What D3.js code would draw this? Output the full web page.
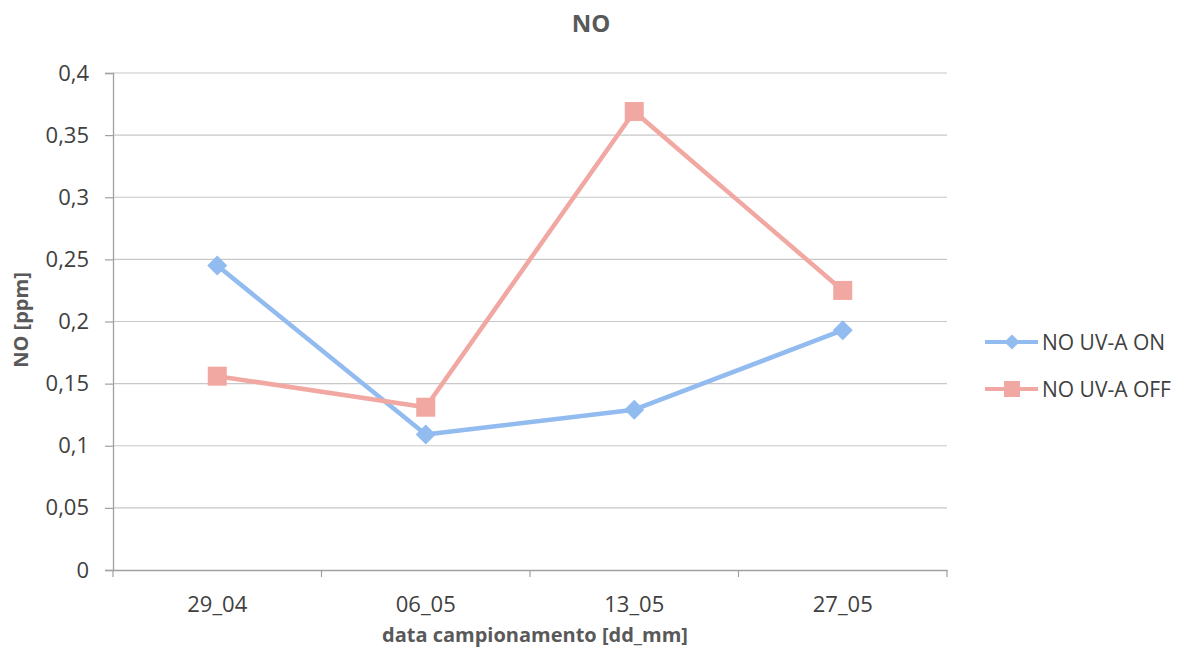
<!DOCTYPE html>
<html><head><meta charset="utf-8">
<script src="https://cdn.jsdelivr.net/npm/d3@7"></script>
<style>body{margin:0;background:#fff;} text{font-family:"Open Sans","Noto Sans",sans-serif;}</style>
</head><body>
<svg id="c" width="1197" height="656"></svg>
<script>
const categories = ["29_04","06_05","13_05","27_05"];
const seriesOn = [0.245, 0.109, 0.129, 0.193];
const seriesOff = [0.156, 0.131, 0.369, 0.225];
const yTicks = [0,0.05,0.1,0.15,0.2,0.25,0.3,0.35,0.4];
const seriesNames = ["NO UV-A ON","NO UV-A OFF"];
const colors = ["#92BBF0","#F2A8A2"];

const svg = d3.select("#c");
const L=113, R=947, T=73, B=570;
const x = d3.scaleBand().domain(categories).range([L,R]);
const y = d3.scaleLinear().domain([0,0.4]).range([B,T]);
const fmt = d => String(d).replace(".",",");
const txt = "#404040";

// gridlines
svg.append("g").selectAll("line").data(yTicks.slice(1)).join("line")
  .attr("x1",L).attr("x2",R).attr("y1",d=>y(d)).attr("y2",d=>y(d))
  .attr("stroke","#c8c8c8").attr("stroke-width",1.2);

// y axis
const ya = svg.append("g").attr("transform",`translate(${L},0)`)
  .call(d3.axisLeft(y).tickValues(yTicks).tickFormat(fmt).tickSize(8).tickPadding(16));
ya.select(".domain").attr("stroke","#a0a0a0").attr("stroke-width",1.3);
ya.selectAll(".tick line").attr("stroke","#a0a0a0").attr("stroke-width",1.2);
ya.selectAll("text").style("font-size","22px").attr("fill",txt).style("font-family","Open Sans");

// x axis
const xa = svg.append("g").attr("transform",`translate(0,${B})`)
  .call(d3.axisBottom(x).tickSize(0).tickPadding(26));
xa.select(".domain").attr("stroke","#a0a0a0").attr("stroke-width",1.3);
xa.selectAll("text").style("font-size","22px").attr("fill",txt).style("font-family","Open Sans");
const bounds = categories.map(c=>x(c)).concat([R]);
svg.append("g").selectAll("line").data(bounds).join("line")
  .attr("x1",d=>d).attr("x2",d=>d).attr("y1",B).attr("y2",B+7)
  .attr("stroke","#a0a0a0").attr("stroke-width",1.2);

const cx = c => x(c)+x.bandwidth()/2;
const line = d3.line().x((d,i)=>cx(categories[i])).y(d=>y(d));

function marker(g, kind, px, py, s, color){
  if(kind==="d"){
    g.append("path").attr("d",`M${px},${py-s}L${px+s},${py}L${px},${py+s}L${px-s},${py}Z`).attr("fill",color);
  } else {
    g.append("rect").attr("x",px-s).attr("y",py-s).attr("width",2*s).attr("height",2*s).attr("fill",color);
  }
}

function drawSeries(vals, color, kind){
  svg.append("path").datum(vals).attr("d",line).attr("fill","none")
    .attr("stroke",color).attr("stroke-width",4.5).attr("stroke-linejoin","round");
  const g = svg.append("g");
  vals.forEach((v,i)=> marker(g, kind, cx(categories[i]), y(v), kind==="d"?10:9.5, color));
}
drawSeries(seriesOn, colors[0], "d");
drawSeries(seriesOff, colors[1], "s");

// legend
const lg = svg.append("g");
[0,1].forEach(i=>{
  const ly = 342 + i*47;
  lg.append("line").attr("x1",985).attr("x2",1038).attr("y1",ly).attr("y2",ly).attr("stroke",colors[i]).attr("stroke-width",4);
  marker(lg, i===0?"d":"s", 1012, ly, i===0?7.5:8, colors[i]);
  lg.append("text").attr("x",1042).attr("y",ly).attr("dy","0.36em").style("font-size","21px").attr("fill",txt).text(seriesNames[i]);
});

// titles
svg.append("text").attr("x",591).attr("y",32).attr("text-anchor","middle").style("font-size","24px").attr("font-weight","bold").attr("fill","#595959").text("NO");
svg.append("text").attr("x",535).attr("y",642).attr("text-anchor","middle").style("font-size","20px").attr("font-weight","bold").attr("fill","#595959").text("data campionamento [dd_mm]");
svg.append("text").attr("transform","translate(28,320) rotate(-90)").attr("text-anchor","middle").style("font-size","20px").attr("font-weight","bold").attr("fill","#595959").text("NO [ppm]");
</script>
</body></html>
